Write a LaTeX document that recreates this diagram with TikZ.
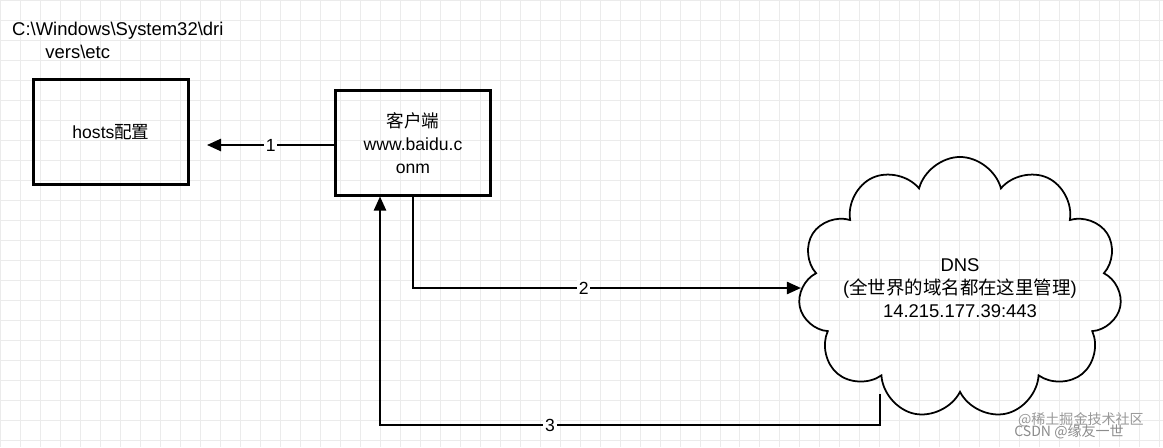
\documentclass[tikz,border=0pt]{standalone}
\usepackage{fontspec}
\setmainfont{Liberation Sans}
\newfontfamily\cjk{Noto Sans CJK SC}
\usetikzlibrary{shapes.symbols,arrows.meta}
\begin{document}
\begin{tikzpicture}[x=0.02cm,y=-0.02cm,
  box/.style={draw,line width=1.2pt,minimum width=3.1cm,minimum height=2.1cm,align=center,font=\fontsize{10pt}{13pt}\selectfont},
  conn/.style={line width=1pt,-{Triangle[length=8pt,width=7pt]}},
  lbl/.style={fill=white,inner sep=1pt,font=\fontsize{10pt}{12pt}\selectfont}]
\useasboundingbox (0,0) rectangle (1163,447);
\fill[white] (0,0) rectangle (1163,447);
\draw[black!8,line width=0.4pt,step=0.4cm] (0,0) grid (1163,447);
\node[anchor=west,align=left,font=\fontsize{10.5pt}{13pt}\selectfont] (path) at (6,40) {C:\textbackslash Windows\textbackslash System32\textbackslash dri\\\hspace{1.8em}vers\textbackslash etc};
\node[box] (hosts) at (111,132) {hosts{\cjk 配置}};
\node[box] (client) at (413,143) {{\cjk 客户端}\\www.baidu.c\\onm};
\node[cloud,draw,line width=1pt,cloud puffs=11,aspect=1.4,inner xsep=-8pt,inner ysep=-14pt,minimum width=5.8cm,minimum height=4cm,align=center,font=\fontsize{10.5pt}{13pt}\selectfont] (dns) at (960,288) {DNS\\({\cjk 全世界的域名都在这里管理})\\14.215.177.39:443};
\coordinate (h1) at (207,145);
\draw[conn] (client.west |- 0,145) -- node[lbl]{1} (h1);
\draw[conn] (client.south) |- node[lbl,pos=0.72]{2} (dns.west);
\coordinate (c3) at (880,425);
\draw[conn] (dns.south -| c3) -- (c3) -| node[lbl,pos=0.33]{3} ([xshift=-0.66cm]client.south);
\node[text=black!40,font=\cjk\fontsize{8pt}{9pt}\selectfont,anchor=east] (wm) at (1150,420) {@稀土掘金技术社区};
\node[text=black!45,font=\cjk\fontsize{8pt}{9pt}\selectfont,anchor=east] (wm2) at (1130,432) {CSDN @缘友一世};
\end{tikzpicture}
\end{document}
